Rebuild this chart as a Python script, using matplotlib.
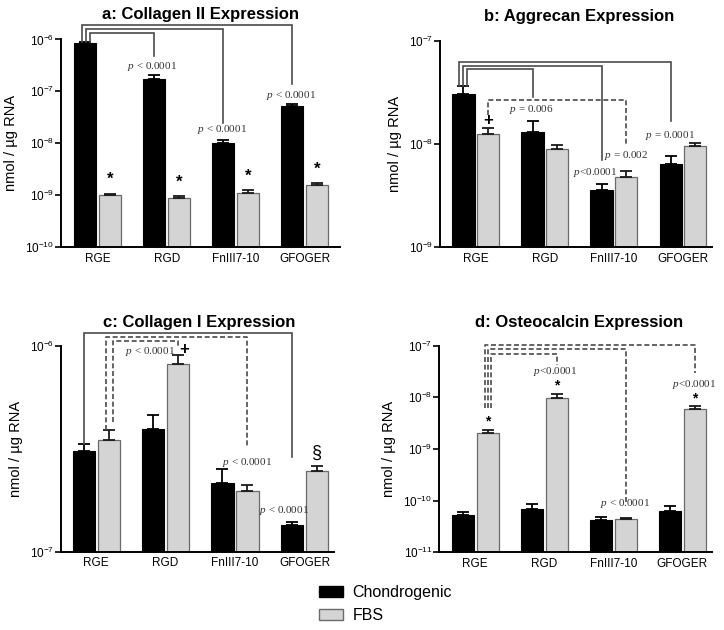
import matplotlib
matplotlib.use('Agg')
import matplotlib.pyplot as plt
import numpy as np
from matplotlib.patches import Patch
from matplotlib.ticker import NullLocator, LogLocator

plt.rcParams['font.family'] = ['Liberation Sans', 'DejaVu Sans']
plt.rcParams['mathtext.fontset'] = 'custom'
plt.rcParams['mathtext.rm'] = 'Liberation Sans'
plt.rcParams['mathtext.it'] = 'Liberation Serif:italic'
plt.rcParams['mathtext.default'] = 'regular'

# ---------------- data ----------------
categories = ['RGE', 'RGD', 'FnIII7-10', 'GFOGER']
series_names = ['Chondrogenic', 'FBS']

col2_chondro = [8.5e-7, 1.7e-7, 1.0e-8, 5.3e-8]
col2_chondro_top = [9.0e-7, 2.1e-7, 1.17e-8, 5.6e-8]
col2_fbs = [1.0e-9, 8.7e-10, 1.12e-9, 1.6e-9]
col2_fbs_top = [1.07e-9, 9.5e-10, 1.25e-9, 1.7e-9]

agg_chondro = [3.07e-8, 1.29e-8, 3.56e-9, 6.35e-9]
agg_chondro_top = [3.6e-8, 1.68e-8, 4.07e-9, 7.6e-9]
agg_fbs = [1.25e-8, 8.9e-9, 4.8e-9, 9.6e-9]
agg_fbs_top = [1.42e-8, 9.8e-9, 5.45e-9, 1.02e-8]

col1_chondro = [3.09e-7, 3.94e-7, 2.15e-7, 1.35e-7]
col1_chondro_top = [3.32e-7, 4.59e-7, 2.51e-7, 1.39e-7]
col1_fbs = [3.47e-7, 8.11e-7, 1.97e-7, 2.47e-7]
col1_fbs_top = [3.88e-7, 9.0e-7, 2.11e-7, 2.6e-7]

ost_chondro = [5.36e-11, 6.8e-11, 4.22e-11, 6.22e-11]
ost_chondro_top = [6.04e-11, 8.5e-11, 4.83e-11, 7.8e-11]
ost_fbs = [2.01e-9, 9.7e-9, 4.42e-11, 5.94e-9]
ost_fbs_top = [2.37e-9, 1.16e-8, 4.62e-11, 6.7e-9]

titles = ['a: Collagen II Expression', 'b: Aggrecan Expression',
          'c: Collagen I Expression', 'd: Osteocalcin Expression']
ylabel = 'nmol / µg RNA'

BLACK = '#000000'
GRAY = '#d4d4d4'
GRAY_EDGE = '#6a6a6a'
LINE = '#4a4a4a'

fig = plt.figure(figsize=(7.24, 6.30), dpi=100)
W, H = 724, 630

def axes_px(l, r, t, b):
    return fig.add_axes([l / W, 1 - b / H, (r - l) / W, (b - t) / H])

x = np.arange(len(categories))
off = 0.18
bw = 0.32
xb = x - off
xg = x + off

def draw_panel(ax, chon, chon_top, fbs, fbs_top, ylim, xlim, title, title_xy):
    ax.set_yscale('log')
    ax.set_ylim(*ylim)
    ax.set_xlim(*xlim)
    base = ylim[0]
    chon = np.array(chon); fbs = np.array(fbs)
    ax.bar(xb, chon - base, bw, bottom=base, color=BLACK, edgecolor=BLACK, lw=0.8, zorder=2)
    ax.bar(xg, fbs - base, bw, bottom=base, color=GRAY, edgecolor=GRAY_EDGE, lw=0.9, zorder=2)
    ax.errorbar(xb, chon, yerr=[np.zeros(4), np.array(chon_top) - chon], fmt='none',
                ecolor='black', elinewidth=1.3, capsize=4.5, capthick=1.3, zorder=3)
    ax.errorbar(xg, fbs, yerr=[np.zeros(4), np.array(fbs_top) - fbs], fmt='none',
                ecolor='#1a1a1a', elinewidth=1.3, capsize=4.5, capthick=1.3, zorder=3)
    for s in ['top', 'right']:
        ax.spines[s].set_visible(False)
    for s in ['left', 'bottom']:
        ax.spines[s].set_linewidth(1.4)
    ax.yaxis.set_major_locator(LogLocator(base=10, numticks=10))
    ax.yaxis.set_minor_locator(NullLocator())
    ax.tick_params(axis='y', which='major', length=4, width=1.2, labelsize=8.5, pad=1)
    ax.tick_params(axis='x', length=0, labelsize=8.5, pad=4)
    ax.set_xticks(x)
    ax.set_xticklabels(categories)
    ax.set_ylabel(ylabel, fontsize=10.5, labelpad=5)
    fig.text(title_xy[0] / W, 1 - title_xy[1] / H, title, ha='center', va='center',
             fontsize=12, fontweight='bold')

def bracket(ax, x0, y0, x1, y1, ytop, dashed=False):
    ls = (0, (3, 1.6)) if dashed else '-'
    ax.plot([x0, x0, x1, x1], [y0, ytop, ytop, y1], color=LINE, lw=1.2, ls=ls,
            clip_on=False, zorder=4, solid_joinstyle='miter')

def plabel(ax, xp, yp, txt):
    ax.text(xp, yp, r'$\mathit{p}$' + txt, ha='center', va='center', fontsize=8,
            family='Liberation Serif', color='#333333', zorder=5)

def mark(ax, xp, yp, s, size=12):
    ax.text(xp, yp, s, ha='center', va='center', fontsize=size, fontweight='bold', zorder=5)

# ---- panel a ----
axa = axes_px(61, 340, 39.5, 247)
draw_panel(axa, col2_chondro, col2_chondro_top, col2_fbs, col2_fbs_top,
           (1e-10, 1e-6), (-0.53, 3.51), titles[0], (201, 15))
bracket(axa, xb[0] - 0.045, col2_chondro_top[0], xb[3], 1.38e-7, 1.9e-6)
bracket(axa, xb[0] + 0.013, col2_chondro_top[0], xb[2], 2.45e-8, 1.62e-6)
bracket(axa, xb[0] + 0.071, col2_chondro_top[0], xb[1], 4.8e-7, 1.35e-6)
plabel(axa, 0.79, 3.0e-7, ' < 0.0001')
plabel(axa, 1.80, 1.87e-8, ' < 0.0001')
plabel(axa, 2.80, 8.5e-8, ' < 0.0001')
for i in range(4):
    mark(axa, xg[i], col2_fbs_top[i] * 1.85, '*', 12)

# ---- panel b ----
axb = axes_px(440, 712, 40.7, 247)
draw_panel(axb, agg_chondro, agg_chondro_top, agg_fbs, agg_fbs_top,
           (1e-9, 1e-7), (-0.52, 3.42), titles[1], (579, 16.7))
bracket(axb, xb[0] - 0.06, agg_chondro_top[0], xb[3], 1.66e-8, 6.22e-8)
bracket(axb, xb[0] + 0.0, agg_chondro_top[0], xb[2], 7.0e-9, 5.69e-8)
bracket(axb, xb[0] + 0.055, agg_chondro_top[0], xb[1], 2.87e-8, 5.28e-8)
bracket(axb, xg[0], 1.9e-8, xg[2], 9.6e-9, 2.67e-8, dashed=True)
plabel(axb, 0.805, 2.17e-8, ' = 0.006')
plabel(axb, 2.17, 7.66e-9, ' = 0.002')
plabel(axb, 1.73, 5.3e-9, '<0.0001')
plabel(axb, 2.81, 1.2e-8, ' = 0.0001')
mark(axb, xg[0], 1.68e-8, '+', 12)

# ---- panel c ----
axc = axes_px(60.7, 334.3, 345.7, 551.7)
draw_panel(axc, col1_chondro, col1_chondro_top, col1_fbs, col1_fbs_top,
           (1e-7, 1e-6), (-0.51, 3.43), titles[2], (199, 322.3))
bracket(axc, xb[0], col1_chondro_top[0], xb[3], 2.89e-7, 1.148e-6)
bracket(axc, xg[0] - 0.04, col1_fbs_top[0], xg[2], 3.23e-7, 1.106e-6, dashed=True)
bracket(axc, xg[0] + 0.065, 4.27e-7, xg[1], 9.9e-7, 1.057e-6, dashed=True)
plabel(axc, 0.78, 9.4e-7, ' < 0.0001')
plabel(axc, 2.17, 2.72e-7, ' < 0.0001')
plabel(axc, 2.71, 1.59e-7, ' < 0.0001')
mark(axc, 1.27, 9.6e-7, '+', 12)
axc.text(xg[3], 3.0e-7, '§', ha='center', va='center', fontsize=13, zorder=5)

# ---- panel d ----
axd = axes_px(439.3, 712, 345.7, 552.3)
draw_panel(axd, ost_chondro, ost_chondro_top, ost_fbs, ost_fbs_top,
           (1e-11, 1e-7), (-0.52, 3.43), titles[3], (579, 322.3))
bracket(axd, xg[0] - 0.042, 6.2e-9, xg[3], 2.9e-8, 1.03e-7, dashed=True)
bracket(axd, xg[0] + 0.006, 6.2e-9, xg[2], 9.6e-11, 8.6e-8, dashed=True)
bracket(axd, xg[0] + 0.055, 6.2e-9, xg[1], 4.2e-8, 6.9e-8, dashed=True)
plabel(axd, 1.16, 3.2e-8, '<0.0001')
plabel(axd, 3.17, 1.8e-8, '<0.0001')
plabel(axd, 2.17, 8.7e-11, ' < 0.0001')
for i in (0, 1, 3):
    mark(axd, xg[i], ost_fbs_top[i] * 1.45, '*', 10)

# ---- legend ----
handles = [Patch(facecolor=BLACK, edgecolor=BLACK),
           Patch(facecolor=GRAY, edgecolor=GRAY_EDGE)]
fig.legend(handles, series_names, loc='upper left',
           bbox_to_anchor=(319 / W, 1 - 585 / H), frameon=False, fontsize=11.5,
           handlelength=1.5, handleheight=0.65, handletextpad=0.6,
           labelspacing=0.5, borderpad=0, borderaxespad=0)

fig.savefig('out.png', dpi=100)
